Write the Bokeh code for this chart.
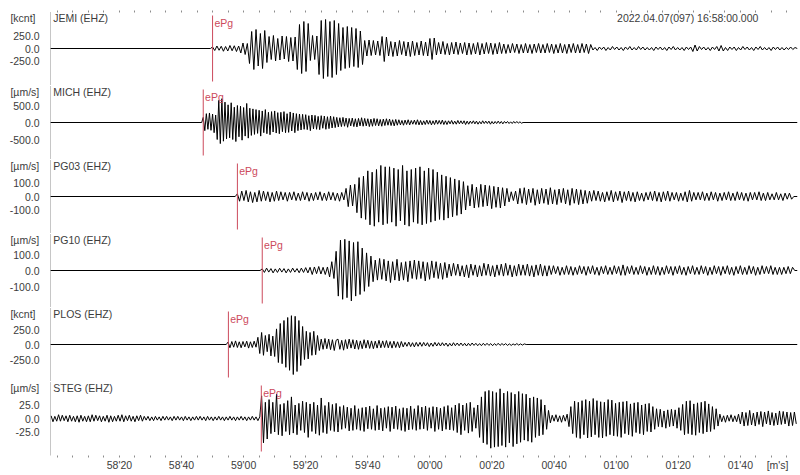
from bokeh.plotting import figure
from bokeh.models import Range1d, Label, FixedTicker, LinearAxis, NumeralTickFormatter
from bokeh.layouts import column
from bokeh.embed import file_html
from bokeh.resources import INLINE

# ---------------- data ----------------
HEADER = "2022.04.07(097) 16:58:00.000"
STATIONS = ["JEMI (EHZ)", "MICH (EHZ)", "PG03 (EHZ)", "PG10 (EHZ)", "PLOS (EHZ)", "STEG (EHZ)"]
UNITS = ["[kcnt]", "[µm/s]", "[µm/s]", "[µm/s]", "[kcnt]", "[µm/s]"]
Y_TICKS = [[-250, 0, 250], [-500, 0, 500], [-100, 0, 100], [-100, 0, 100], [-250, 0, 250], [-25, 0, 25]]
PICK_NAME = "ePg"
PICKS = [50.0, 47.0, 58.0, 66.0, 55.1, 65.7]      # seconds after 16:58:00
START = [50.0, 47.0, 58.0, 66.0, 55.0, -2.0]      # first sample time (s)
DT = [0.7, 0.5, 0.7, 0.7, 0.6, 0.6]               # sample interval (s)

X_TICKS = [20, 40, 60, 80, 100, 120, 140, 160, 180, 200, 220]
X_TICK_LABELS = ["58'20", "58'40", "59'00", "59'20", "59'40", "00'00", "00'20", "00'40", "01'00", "01'20", "01'40"]
X_MINOR = list(range(0, 240, 5))
X_UNIT = "[m's]"
X_UNIT_POS = 232

JEMI = [
    30, -40, 50, -35, 45, -55, 40, -50, 60, -45, 55, -60, 50,
    -90, 110, -120, 100,
    -300, 340, -420, 380, -350, 300, -400, 360, -280,
    240, -220, 260, -250, 200, -230, 250, -210, 240, -260, 220, -250, 230,
    -420, 480, -500, 540, -460, 500,
    -240, 260, -220, 250,
    -520, 560, -600, 580, -560, 540, -580, 560, -520, 500,
    -440, 420, -400, 440, -380, 420, -360, 400, -380, 350, -320,
    160, -150, 170, -140, 160, -130, 150, -140,
    240, -260, 230,
    -150, 140, -160, 130, -150, 160, -120, 140, -150, 130, -160, 150, -140, 120, -130, 150, -140, 130, -150,
    200, -220, 210,
    -130, 120, -110, 140, -120, 100, -130, 120, -110, 130, -120, 110, -100, 120, -130, 110, -120, 100, -110, 120,
    -130, 100, -110, 120, -100, 110, -120, 100, -110, 120, -100,
    90, -100, 80, -90, 100, -80, 90, -100, 80, -90, 100, -90, 80, -100, 90, -80, 100, -90, 80, -90,
    100, -80, 90, -100, 80, -90, 100, -90, 80, -100, 90, -80, 100, -90, 80, -90, 100, -80, 90, -100, 80,
    -30, 20, -40, 30, -20, 30, -40, 20, -30, 40, -20, 30, -30, 20, -40, 30, -20, 40, -30, 20,
    -30, 40, -20, 30, -30, 20, -30, 20, -40, 30, -20, 30, -30, 20, -40, 30, -20, 40, -30, 20,
    -30, 20, -40, 30, -20, 30, -60, 70, -50, 40, -20, 30, -30, 20, -40, 30, -20, 40, -50, 60,
    -50, 20, -40, 30, -20, 30, -40, 20, -30, 40, -20, 30, -30, 20, -40, 30, -20, 40, -30, 20,
    -30, 20, -40, 30, -20, 30, -30, 20, -30, 20, -20, 30, -20, 20,
]

MICH = [
    150, -240, 260, -200, 280, -230, 250, -300, 220,
    -500, 650, -620, 700, -550, 600, -480,
    520, -450, 580, -500, 450, -560, 500, -420, 480, -520, 440, -400, 560, -460, 420, -380,
    400, -350, 380, -320, 360, -400, 340, -300, 380, -330, 300, -360, 320, -280, 340,
    -310, 290, -330, 300, -270, 320, -300, 260, -290, 310, -250, 280, -300, 260, -240,
    250, -220, 240, -200, 230, -210, 200, -240, 220, -190, 210, -200,
    180, -210, 200, -170, 190, -200, 170, -180, 190, -160, 170, -150,
    150, -130, 140, -120, 150, -110, 130, -140, 120, -100, 130, -120, 110, -130, 120, -100, 140, -110, 120, -100,
    110, -120, 100, -110, 120, -90, 110, -100, 90, -110, 100, -90, 110, -80, 100, -90, 80, -100, 90, -80,
    80, -70, 60, -80, 70, -60, 80, -70, 60, -50, 70, -60, 80, -70, 60, -70, 50, -60, 70, -50,
    60, -70, 50, -60, 70, -50, 60, -50, 70, -60, 50, -60, 50, -40, 60, -50, 40, -50, 60, -40,
    50, -40, 50, -60, 40, -50, 40, -30, 50, -40, 40, -50, 30, -40, 50, -30, 40, -30, 40, -50,
    30, -40, 30, -30, 40, -30, 30, -40, 30, -20, 30, -30, 20, -30, 30, -20, 30, -20, 20, -20,
]

PG03 = [
    20, -35, 40, -30, 45, -40, 35, -45, 30, -40, 45, -35, 40, -30, 35, -40, 30, -35, 40, -30, 35, -25, 30, -35,
    30, -25, 35, -30, 25, -30, 35, -25, 30, -35, 25, -30, 30, -25, 35, -30, 25, -30, 35, -25, 30, -30, 25, -35,
    30, -25,
    60, -75, 85, -70, 90,
    -120, 140, -160, 150,
    -170, 190, -210, 180, -220, 200, -190, 230, -210, 220,
    -200, 220, -190, 210, -220, 200, -180, 230, -210, 190, -220, 200, -190, 210, -200, 220, -210, 190, -200, 210,
    -190, 200, -180,
    180, -170, 160, -175, 150, -160, 140, -150, 130, -140, 120, -130, 110, -100,
    80, -70, 90, -85, 70, -80, 90, -75, 85, -70, 80, -90, 75, -80, 70, -85, 65, -70, 60,
    -40, 35, -30, 40,
    -55, 60, -50, 65, -60, 55, -45, 60, -65, 50, -55, 60, -50, 55, -60, 65, -55, 50, -60, 55,
    -45, 60, -55, 50, -65, 60, -50, 55, -60, 50, -55, 45, -50,
    40, -35, 45, -30, 40, -35, 30, -40, 35, -30, 45, -40, 35, -30, 40, -45, 35, -30, 40, -35,
    30, -40, 35, -30, 25, -35, 30, -25, 35, -30, 40, -35, 30, -40, 35, -30, 40, -35, 30, -25,
    30, -35, 25, -30, 35, -40, 45, -35, 30, -25, 30, -25, 35, -30, 25, -30, 35, -25, 30, -35,
    25, -30, 30, -25, 35, -30, 25, -30, 35, -25, 30, -30, 25, -35, 30, -25, 30, -25, 35, -30,
    25, -30, 30, -25, 20, -25, 30, -25, 20, -30, 25, -20, 25, -20,
]

PG10 = [
    10, -12, 15, -10, 12, -15, 10, -12, 14, -10, 12, -15, 10, -12, 15, -10, 12, -14, 15, -12, 18, -15,
    20, -25, 22, -20, 25, -22, 20, -25, 22,
    -40, 55, -50,
    120, -160, 190, -180, 195, -170, 185, -190, 175, -160, 180, -150, 140, -130, 110, -100, 90,
    -70, 65, -60, 75, -55, 70, -65, 60, -75, 55, -60, 70, -65, 50, -60, 55, -70, 60, -50, 65,
    -55, 60, -50, 55, -65, 50, -55, 60, -45, 55, -50, 45, -55, 50, -45,
    40, -35, 45, -30, 40, -35, 30, -40, 35, -45, 40, -30, 35, -40, 30, -35, 45, -30, 40, -35,
    30, -40, 35, -30, 40, -35, 45, -30, 35, -40, 30, -35, 40, -30, 35, -30, 40, -35, 30, -40,
    35, -30, 40, -35, 30, -35,
    30, -25, 30, -20, 25, -30, 20, -25, 30, -25, 25, -30, 20, -25, 30, -20, 25, -30, 25, -20,
    30, -25, 20, -30, 25, -20, 30, -25, 20, -25, 30, -20, 25, -30, 35, -30, 25, -20, 30, -25,
    20, -25, 30, -20, 25, -30, 20, -25, 30, -25, 25, -30, 20, -25, 30, -20, 25, -30, 25, -20,
    30, -25, 20, -30, 25, -20, 30, -25, 20, -25, 30, -20, 25, -30, 20, -25, 30, -20, 25, -30,
    25, -20, 30, -25, 20, -30, 25, -20, 30, -25, 20, -25, 30, -20, 25, -30, 20, -25, 30, -20,
    25, -20, 30, -25, 20, -25, 20, -25, 20, -20, 25, -20, 20,
]

PLOS = [
    40, -55, 50, -45, 60, -50, 45, -55, 50, -40, 55, -60, 45, -50, 55, -45,
    120, -150, 200, -180, 150, -120, 170, -190, 140,
    -200, 260, -300, 350, -320, 400, -380, 450, -430, 480, -500, 470, -450, 400, -350,
    300, -250, 220, -240, 200, -180, 220, -170, 150,
    -100, 90, -80, 100, -70, 90, -85, 80, -100, 70, 90, -80, 70, -95, 80, -70, 90, -60, 80, -75,
    70, -80, 60, -70, 80, -60, 70, -65, 60, -70, 55, -60, 70, -55, 60, -50, 65, -55, 50, -60,
    55, -50, 45, -55, 50,
    -40, 35, -30, 40, -35, 30, -40, 35, -30, 35, -30, 35, -25, 30, -35, 25, -30, 35, -25, 30,
    -25, 30, -20, 25, -30, 20, -25, 30, -20, 25, -20, 25, -20, 20, -25, 20, -20, 25, -15, 20,
    -20, 15, -20, 20, -15, 20, -15, 15, -20, 15, -15, 20, -15, 15, -10, 15, -15, 10, -15, 10,
    -10, 15, -10, 10, -10, 10,
]

STEG = [
    5, -6, 4, -5, 7, -5, 6, -4, 5, -6, 6, -5, 4, -6, 5, -7, 6, -5, 4, -6,
    5, -6, 7, -5, 6, -4, 5, -6, 4, -5, 6, -7, 5, -6, 4, -5, 6, -5, 7, -6,
    5, -4, 6, -5, 4, -6, 5, -4, 6, -5,
    4, -3, 4, -4, 3, -4, 4, -3, 3, -4, 4, -3, 4, -3, 3, -4, 4, -3, 4, -3,
    3, -4, 4, -3, 3, -4, 3, -3, 4, -3, 4, -3, 3, -4, 4, -3, 3, -4, 3, -3,
    4, -3, 3, -4, 3, -3, 4, -3, 3, -4, 3, -3, 4, -3, 3, -4, 3, -3, 4, -3,
    3, -4, 3,
    42, -45, 30, -38, 35,
    -28, 30, -25, 45, -30, 26, -32, 28, -24, 33, -30, 40, -27, 25, -30, 28, -22, 32, -26, 30,
    -35, 27, -24, 30, -28, 25, -31, 38, -26, 24, -28, 30, -22, 26, -24, 28, -25,
    22, -20, 24, -18, 21, -23, 19, -22, 24, -20, 18, -22, 20, -24, 21, -19, 23, -20, 18, -22,
    24, -21, 19, -23, 20, -18, 22, -24, 21, -19, 23, -20, 18, -22, 20, -24, 19, -21, 23, -20,
    18, -22, 24, -20, 21, -19, 23, -22, 20, -18, 22, -24, 21, -20, 19, -23, 22, -20, 24, -21,
    20, -22, 25,
    -26, 28, -30, 25, -22, 28, -27, 30, -24, 20, -18, 25,
    -35, 40, -45, 50, -48, 52, -55, 50, -53, 48, -52, 55, -50, 47, -53, 50, -45, 48, -52, 45,
    -47, 50, -44, 46, -40, 45, -42, 38, -44, 40, -35, 38, -32, 35, -30, 25, -20, 15,
    -8, 6, -5, 7, -6, 5, -7, 6, -5, 8,
    -15, 22, -28, 32, -35, 30, -37, 33, -30, 35, -36, 32, -34, 37, -30, 33, -35, 31, -36, 30,
    -33, 35, -30, 34, -32, 28, -33, 30, -35, 31, -28, 32, -30, 27, -33, 29, -26, 30, -28, 25,
    -30, 27, -24, 28, -25, 22, -20,
    18, -15, 17, -16, 14, -18, 16, -15, 17, -14, 16, -18, 20, -22,
    26, -30, 32, -28, 33, -30, 27, -31, 29, -26, 30, -28, 32, -25, 27, -24, 22, -20, 18, -14,
    8, -6, 5, -7, 6, -5, 7, -6, 5, -6, 8,
    -10, 12, -14, 11, -13, 15, -12, 10, -14, 12, -11, 13, -15, 12, -10, 14, -12, 11, -13, 10,
    -12, 14, -11, 13, -10, 12, -14, 11, -13, 12, -10,
]

TRACES = [JEMI, MICH, PG03, PG10, PLOS, STEG]

# ---------------- style / layout ----------------
REC_START, REC_END = -2.2, 238.4          # record window (s)
PX_PER_S = 3.105
VIEW_START = REC_START - 50 / PX_PER_S    # leaves room for the left annotations
PX_PER_UNIT = [0.05, 0.034, 0.135, 0.16, 0.06, 0.54]
FONT = "Liberation Sans"
TXT = "#3c3c3c"
RED = "#cc4a5c"
GREY = "#8c8c8c"
FS = "10.5px"

xr = Range1d(VIEW_START, REC_END)
figs = []
for i in range(6):
    first, last = i == 0, i == 5
    upp = 1.0 / PX_PER_UNIT[i]
    p = figure(frame_width=797, frame_height=74, x_range=xr,
               y_range=Range1d(-37 * upp, 37 * upp),
               output_backend="svg", toolbar_location=None,
               x_axis_location=("below" if last else None),
               min_border_left=0, min_border_right=3,
               min_border_top=(11 if first else 0), min_border_bottom=0)
    p.grid.visible = False
    p.outline_line_color = None
    p.background_fill_color = "white"
    p.border_fill_color = "white"

    ya = p.yaxis[0]
    ya.fixed_location = REC_START
    ya.ticker = FixedTicker(ticks=Y_TICKS[i])
    ya.formatter = NumeralTickFormatter(format="0.0")
    ya.major_tick_in = 0
    ya.major_tick_out = 0
    ya.minor_tick_in = 0
    ya.minor_tick_out = 0
    ya.axis_line_color = GREY
    ya.axis_line_dash = "1 1"
    ya.major_label_text_font = FONT
    ya.major_label_text_font_size = FS
    ya.major_label_text_color = TXT
    ya.major_label_standoff = 11

    if first:
        top = LinearAxis(ticker=FixedTicker(ticks=[], minor_ticks=X_MINOR))
        top.axis_line_color = None
        top.minor_tick_in = 1
        top.minor_tick_out = 1
        top.minor_tick_line_color = GREY
        p.add_layout(top, "above")
        p.add_layout(Label(x=225.8, y=31 * upp, text=HEADER, text_align="right",
                           text_baseline="middle", text_font=FONT,
                           text_font_size=FS, text_color=TXT))
    if last:
        xa = p.xaxis[0]
        xa.ticker = FixedTicker(ticks=X_TICKS + [X_UNIT_POS], minor_ticks=X_MINOR)
        overrides = {t: lab for t, lab in zip(X_TICKS, X_TICK_LABELS)}
        overrides[X_UNIT_POS] = X_UNIT
        xa.major_label_overrides = overrides
        xa.axis_line_color = None
        xa.major_tick_in = 0
        xa.major_tick_out = 0
        xa.minor_tick_in = 0
        xa.minor_tick_out = 2
        xa.minor_tick_line_color = GREY
        xa.major_label_standoff = 1
        xa.major_label_text_font = FONT
        xa.major_label_text_font_size = FS
        xa.major_label_text_color = TXT

    vals = TRACES[i]
    ts = [START[i] + k * DT[i] for k in range(len(vals))]
    xs, ys = list(ts), list(vals)
    pre = START[i] - DT[i]
    if pre > REC_START:
        xs, ys = [REC_START, pre] + xs, [0, 0] + ys
    post = ts[-1] + DT[i]
    if post < REC_END:
        xs, ys = xs + [post, REC_END], ys + [0, 0]
    p.line(xs, ys, line_color="black", line_width=1)

    p.segment(x0=[PICKS[i]], y0=[-33 * upp], x1=[PICKS[i]], y1=[33 * upp],
              line_color=RED, line_width=1)
    p.add_layout(Label(x=PICKS[i] + 0.6, y=26 * upp, text=PICK_NAME, text_align="left",
                       text_baseline="middle", text_font=FONT, text_font_size=FS,
                       text_color=RED))
    p.add_layout(Label(x=-1.3, y=31 * upp, text=STATIONS[i], text_align="left",
                       text_baseline="middle", text_font=FONT, text_font_size=FS,
                       text_color=TXT))
    p.add_layout(Label(x=-15.1, y=31 * upp, text=UNITS[i], text_align="left",
                       text_baseline="middle", text_font=FONT, text_font_size=FS,
                       text_color=TXT))
    figs.append(p)

layout = column(*figs, spacing=0)
open("out.html", "w").write(file_html(layout, INLINE))
